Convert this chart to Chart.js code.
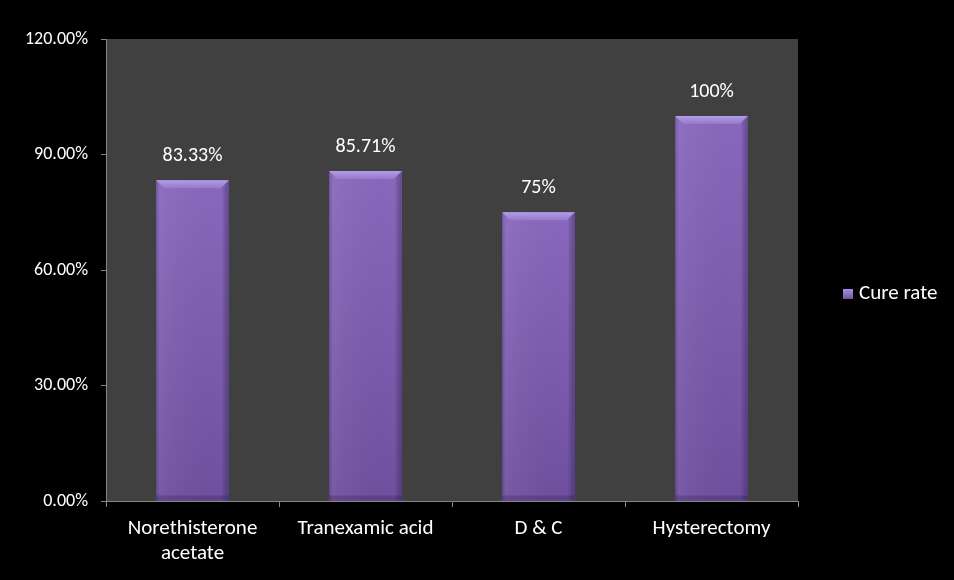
<!DOCTYPE html>
<html><head><meta charset="utf-8">
<script src="https://cdn.jsdelivr.net/npm/chart.js@4"></script>
<style>html,body{margin:0;padding:0;background:#000;}#wrap{width:954px;height:580px;}</style>
</head><body><div id="wrap"><canvas id="c" width="954" height="580"></canvas></div>
<script>
const categories = [["Norethisterone","acetate"], "Tranexamic acid", "D & C", "Hysterectomy"];
const cureRate = [83.33, 85.71, 75, 100];
const valueLabels = ["83.33%", "85.71%", "75%", "100%"];
const seriesName = "Cure rate";
const FONT = "Carlito, Lato, sans-serif";

const bgPlugin = {
  id: 'bg',
  beforeDraw(chart) {
    const {ctx, chartArea: a} = chart;
    ctx.save();
    ctx.fillStyle = '#000';
    ctx.fillRect(0, 0, chart.width, chart.height);
    ctx.fillStyle = '#404040';
    ctx.fillRect(a.left, a.top, a.right - a.left, a.bottom - a.top);
    ctx.restore();
  },
  afterDatasetsDraw(chart) {
    const {ctx} = chart;
    const meta = chart.getDatasetMeta(0);
    ctx.save();
    meta.data.forEach((bar, i) => {
      const l = bar.x - bar.width / 2, r = bar.x + bar.width / 2, t = bar.y, b = bar.base;
      const bev = 8;
      const g = ctx.createLinearGradient(0, t, 0, b);
      g.addColorStop(0, '#8868bc');
      g.addColorStop(1, '#6f50a0');
      ctx.fillStyle = g;
      ctx.fillRect(l, t, r - l, b - t);
      const gh = ctx.createLinearGradient(l, 0, r, 0);
      gh.addColorStop(0, 'rgba(40,20,70,0.25)');
      gh.addColorStop(0.08, 'rgba(255,255,255,0.05)');
      gh.addColorStop(0.9, 'rgba(0,0,0,0)');
      gh.addColorStop(1, 'rgba(30,15,60,0.35)');
      ctx.fillStyle = gh;
      ctx.fillRect(l, t, r - l, b - t);
      ctx.fillStyle = 'rgba(40,20,70,0.25)';
      ctx.fillRect(l, b - 5, r - l, 5);
      const gt = ctx.createLinearGradient(0, t, 0, t + bev);
      gt.addColorStop(0, '#b49de4');
      gt.addColorStop(1, '#9678cc');
      ctx.fillStyle = gt;
      ctx.beginPath();
      ctx.moveTo(l, t); ctx.lineTo(r, t); ctx.lineTo(r - bev, t + bev); ctx.lineTo(l + bev, t + bev); ctx.closePath();
      ctx.fill();
      ctx.fillStyle = '#ffffff';
      ctx.font = '20px ' + FONT;
      ctx.textAlign = 'center';
      ctx.textBaseline = 'middle';
      ctx.fillText(valueLabels[i], bar.x, t - 24);
    });
    const ly = 294;
    const lx = 843;
    const gl = ctx.createLinearGradient(0, ly - 5, 0, ly + 5);
    gl.addColorStop(0, '#a88ddc');
    gl.addColorStop(1, '#7353a5');
    ctx.fillStyle = gl;
    ctx.fillRect(lx, ly - 5, 10, 10);
    ctx.fillStyle = '#fff';
    ctx.font = '21px ' + FONT;
    ctx.textAlign = 'left';
    ctx.textBaseline = 'middle';
    ctx.fillText(seriesName, lx + 16, ly);
    ctx.restore();
  }
};

new Chart(document.getElementById('c'), {
  type: 'bar',
  data: {
    labels: categories,
    datasets: [{
      label: seriesName,
      data: cureRate,
      backgroundColor: '#7e5eb0',
      borderWidth: 0,
      categoryPercentage: 1.0,
      barPercentage: 0.42
    }]
  },
  options: {
    responsive: false,
    animation: false,
    devicePixelRatio: 1,
    layout: { padding: { top: 39, right: 156, left: 0, bottom: 0 } },
    plugins: { legend: { display: false }, tooltip: { enabled: false } },
    scales: {
      x: {
        afterFit(s) { s.height = 79; },
        grid: { display: true, drawOnChartArea: false, drawTicks: true, tickLength: 6, color: '#868686', lineWidth: 1 },
        border: { display: true, color: '#868686', width: 1 },
        ticks: { color: '#ffffff', font: { family: FONT, size: 21, lineHeight: 1.2 }, padding: 9, maxRotation: 0, autoSkip: false }
      },
      y: {
        min: 0, max: 120,
        afterFit(s) { s.width = 106; },
        grid: { display: true, drawOnChartArea: false, drawTicks: true, tickLength: 5, color: '#868686' },
        border: { display: true, color: '#868686', width: 1 },
        ticks: { stepSize: 30, color: '#ffffff', font: { family: FONT, size: 18 }, padding: 13,
          callback: v => v.toFixed(2) + '%' }
      }
    }
  },
  plugins: [bgPlugin]
});
</script></body></html>
